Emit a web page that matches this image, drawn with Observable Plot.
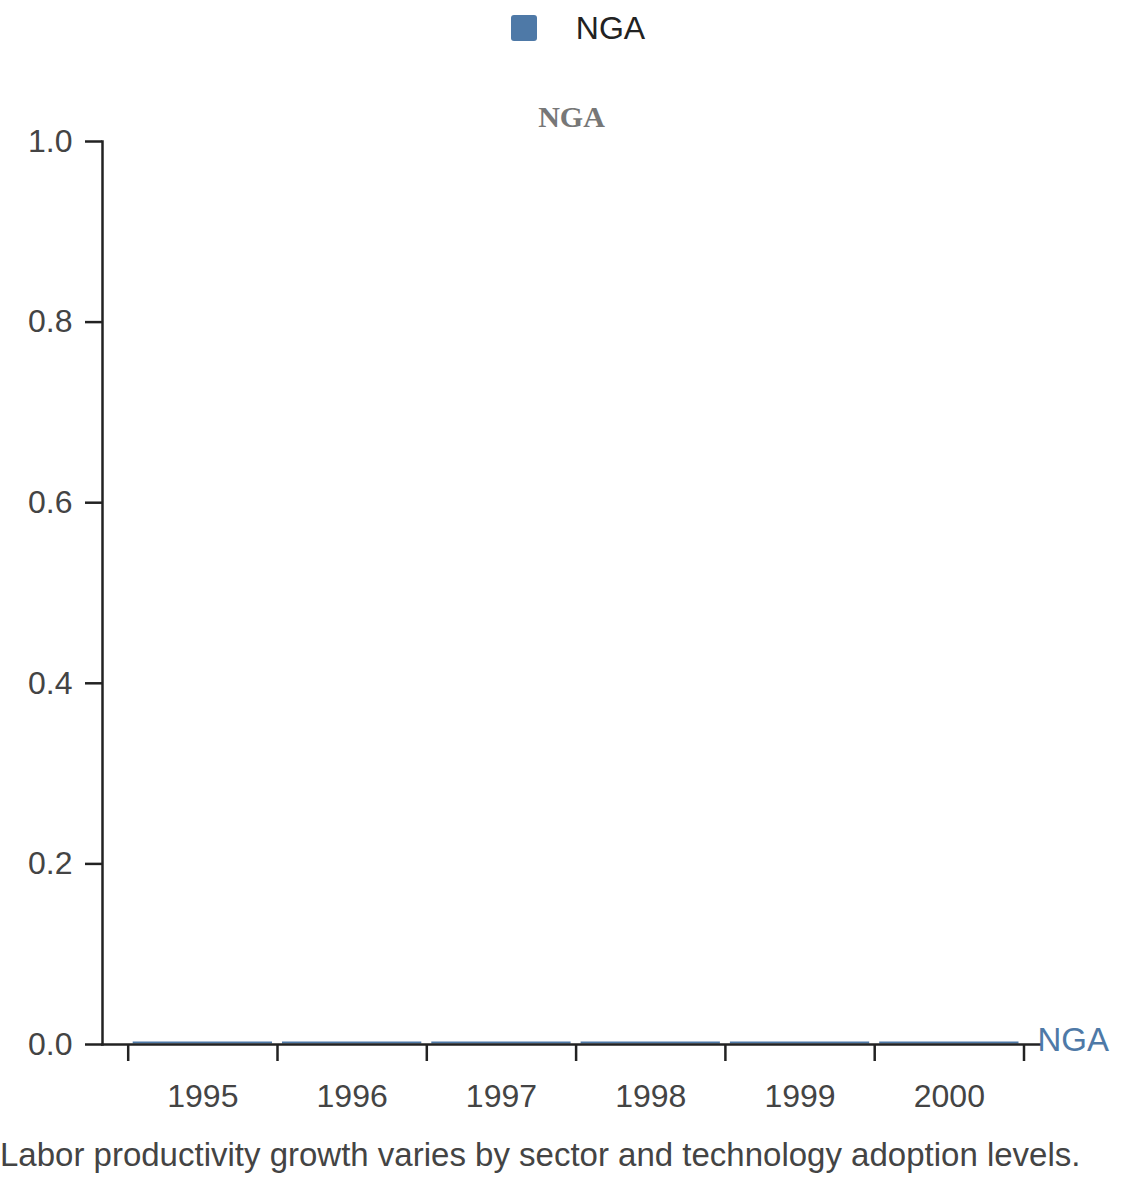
<!DOCTYPE html>
<html>
<head>
<meta charset="utf-8">
<script src="https://cdn.jsdelivr.net/npm/d3@7"></script>
<script src="https://cdn.jsdelivr.net/npm/@observablehq/plot@0.6"></script>
<style>
  html, body { margin: 0; padding: 0; background: #fff; }
  body { width: 1140px; font-family: "Liberation Sans", Arial, sans-serif; }
  #legend { height: 56px; display: flex; align-items: center; justify-content: center; padding-left: 16px; box-sizing: border-box; }
  #legend .sw { width: 26px; height: 26px; border-radius: 3px; background: #4e79a7; margin-right: 39px; }
  #legend .lb { font-size: 32px; color: #222; }
  #caption { font-size: 33px; line-height: 37px; color: #444; margin: 0; padding: 0; white-space: nowrap; }
  svg { display: block; }
</style>
</head>
<body>
<div id="legend"><div class="sw"></div><div class="lb"></div></div>
<div id="chart"></div>
<div id="caption"></div>
<script>
// ---- data ----
const seriesName = "NGA";
const years = [1995, 1996, 1997, 1998, 1999, 2000];
const values = [0, 0, 0, 0, 0, 0];
const yTicks = [0, 0.2, 0.4, 0.6, 0.8, 1.0];
const captionText = "Labor productivity growth varies by sector and technology adoption levels.";
const color = "#4e79a7";

const data = years.map((year, i) => ({year, value: values[i], series: seriesName}));
const boundaries = [years[0] - 0.5, ...years.map(y => y + 0.5)];

document.querySelector("#legend .lb").textContent = seriesName;
document.getElementById("caption").textContent = captionText;

const axisColor = "#222";
const chart = Plot.plot({
  width: 1140,
  height: 1080,
  marginTop: 85,
  marginBottom: 92,
  marginLeft: 102,
  marginRight: 100,
  style: {fontFamily: "'Liberation Sans', Arial, sans-serif", background: "#fff", overflow: "visible"},
  x: {type: "linear", domain: [boundaries[0], boundaries[boundaries.length - 1]], insetLeft: 25.7, insetRight: 16.5},
  y: {domain: [0, 1]},
  marks: [
    Plot.ruleY(data, {
      x1: d => d.year - 0.5, x2: d => d.year + 0.5, y: "value",
      insetLeft: 5, insetRight: 5, dy: -2,
      stroke: color, strokeWidth: 2
    }),
    Plot.frame({anchor: "left", stroke: axisColor, strokeWidth: 2.5}),
    Plot.frame({anchor: "bottom", stroke: axisColor, strokeWidth: 2.5}),
    Plot.axisY({ticks: yTicks, tickFormat: d3.format(".1f"), tickSize: 17, tickPadding: 13,
      fontSize: 32, stroke: axisColor, strokeWidth: 2.5, strokeOpacity: 1, color: "#444", label: null}),
    Plot.axisX({ticks: boundaries, tickFormat: () => "", tickSize: 17, stroke: axisColor, strokeWidth: 2.5, strokeOpacity: 1, label: null}),
    Plot.axisX({ticks: years, tickFormat: d => String(d), tickSize: 0, tickPadding: 39.5,
      fontSize: 32, color: "#444", label: null}),
    Plot.text([seriesName], {frameAnchor: "top", lineAnchor: "bottom", dy: -15,
      fontFamily: "'Liberation Serif', 'Times New Roman', serif", fontWeight: "bold",
      fontSize: 30, fill: "#777"}),
    Plot.text(data.slice(-1), {y: "value", frameAnchor: "right", text: "series", textAnchor: "start",
      dx: -3, dy: -4, fontSize: 33, fill: color})
  ]
});
document.getElementById("chart").appendChild(chart);
</script>
</body>
</html>
